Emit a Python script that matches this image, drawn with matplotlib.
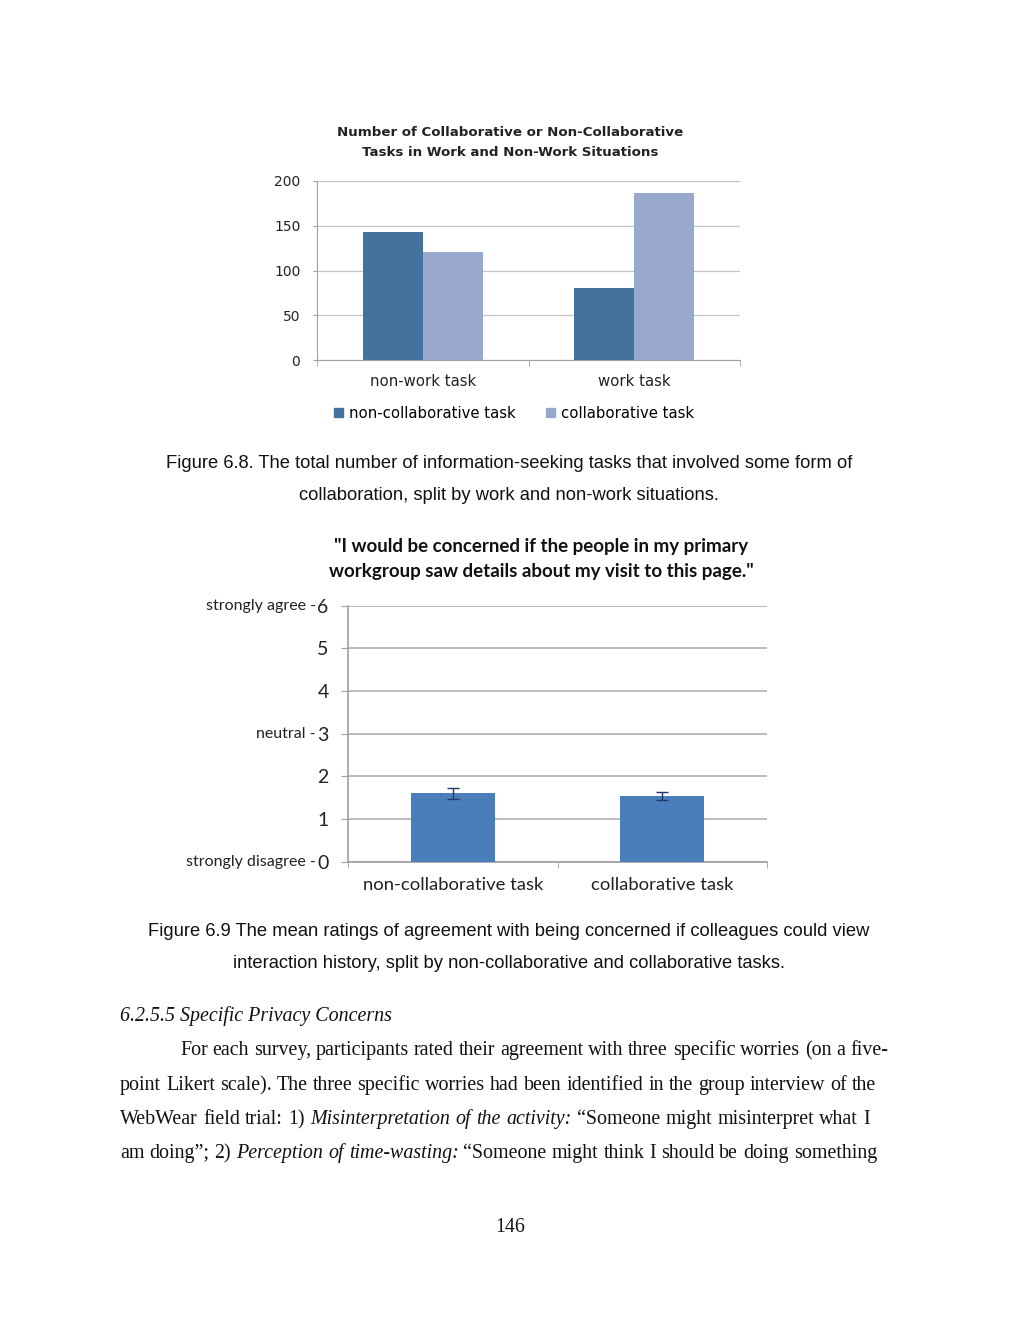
import numpy as np
import matplotlib
matplotlib.use("Agg")
import matplotlib.pyplot as plt
from matplotlib.patches import Patch

# Figure 6.8 data
groups_1 = ["non-work task", "work task"]
non_collab_counts = [143, 80]
collab_counts = [121, 187]
series_1 = ["non-collaborative task", "collaborative task"]
yticks_1 = [0, 50, 100, 150, 200]

# Figure 6.9 data
groups_2 = ["non-collaborative task", "collaborative task"]
mean_rating = [1.60, 1.54]
rating_err = [0.13, 0.105]
yticks_2 = [0, 1, 2, 3, 4, 5, 6]
ylabels_2 = {6: "strongly agree -", 3: "neutral -", 0: "strongly disagree -"}

W, H = 1019, 1320
fig = plt.figure(figsize=(W / 100, H / 100), dpi=100)
fig.patch.set_facecolor("white")


def fy(py):
    return 1 - py / H


def fx(px):
    return px / W


# ---------------- chart 1 ----------------
sans1 = "DejaVu Sans"
ax1 = fig.add_axes([fx(317), fy(360), fx(740) - fx(317), (360 - 181) / H])
x = np.arange(len(groups_1))
bw = 0.284
ax1.bar(x - bw / 2, non_collab_counts, bw, color="#44729f", zorder=3)
ax1.bar(x + bw / 2, collab_counts, bw, color="#98a9cd", zorder=3)
ax1.set_xlim(-0.5, 1.5)
ax1.set_ylim(0, 200)
ax1.set_yticks(yticks_1)
ax1.set_yticklabels([str(v) for v in yticks_1], family=sans1, fontsize=10, color="#222222")
ax1.set_xticks(x)
ax1.set_xticklabels(groups_1, family=sans1, fontsize=10.7, color="#222222")
ax1.set_xticks([-0.5, 0.5, 1.5], minor=True)
ax1.tick_params(axis="x", which="major", length=0, pad=10)
ax1.tick_params(axis="x", which="minor", length=4, color="#a0a0a0", direction="out")
ax1.tick_params(axis="y", length=3, color="#a0a0a0", pad=9)
ax1.grid(axis="y", color="#c4c4c4", linewidth=0.9, zorder=0)
for s in ["top", "right"]:
    ax1.spines[s].set_visible(False)
for s in ["left", "bottom"]:
    ax1.spines[s].set_color("#a0a0a0")

ax1.legend([Patch(color="#44729f"), Patch(color="#98a9cd")], series_1,
           loc="center", bbox_to_anchor=(fx(514), fy(413)), bbox_transform=fig.transFigure,
           ncol=2, frameon=False, handlelength=0.6, handleheight=0.6, handletextpad=0.4,
           columnspacing=2.0, prop={"family": sans1, "size": 10.7})

fig.text(fx(510), fy(133), "Number of Collaborative or Non-Collaborative", ha="center", va="center",
         family=sans1, fontsize=9.6, fontweight="bold", color="#222222")
fig.text(fx(510), fy(153), "Tasks in Work and Non-Work Situations", ha="center", va="center",
         family=sans1, fontsize=9.6, fontweight="bold", color="#222222")

# ---------------- chart 2 ----------------
sans2 = "Lato"
ax2 = fig.add_axes([fx(348), fy(861.7), fx(767) - fx(348), (861.7 - 605.7) / H])
x2 = np.arange(len(groups_2))
ax2.bar(x2, mean_rating, 0.4, color="#4a7ebb", zorder=3)
ax2.errorbar(x2, mean_rating, yerr=rating_err, fmt="none", ecolor="#1f3a68",
             elinewidth=1, capsize=4, capthick=1, zorder=4)
ax2.set_xlim(-0.5, 1.5)
ax2.set_ylim(0, 6)
ax2.set_yticks(yticks_2)
ax2.set_yticklabels([str(v) for v in yticks_2], family=sans2, fontsize=14, color="#222222")
ax2.set_xticks(x2)
ax2.set_xticklabels(groups_2, family=sans2, fontsize=13.3, color="#222222")
ax2.set_xticks([-0.5, 0.5, 1.5], minor=True)
ax2.tick_params(axis="x", which="major", length=0, pad=11)
ax2.tick_params(axis="x", which="minor", length=4, color="#a0a0a0", direction="out")
ax2.tick_params(axis="y", length=5, color="#a0a0a0", pad=9)
ax2.grid(axis="y", color="#a8a8a8", linewidth=1.1, zorder=0)
for s in ["top", "right"]:
    ax2.spines[s].set_visible(False)
for s in ["left", "bottom"]:
    ax2.spines[s].set_color("#a0a0a0")
    ax2.spines[s].set_linewidth(1.2)
for v, lab in ylabels_2.items():
    ax2.annotate(lab, xy=(0, v), xycoords=("axes fraction", "data"),
                 xytext=(-23, 0), textcoords="offset points", ha="right", va="center",
                 family=sans2, fontsize=11.5, color="#222222")

fig.text(fx(541), fy(547), "\"I would be concerned if the people in my primary", ha="center", va="center",
         family=sans2, fontsize=13.5, fontweight="bold", color="#111111")
fig.text(fx(541), fy(571), "workgroup saw details about my visit to this page.\"", ha="center", va="center",
         family=sans2, fontsize=13.5, fontweight="bold", color="#111111")

# ---------------- captions ----------------
cap = "Liberation Sans"
captions = [
    (463, "Figure 6.8. The total number of information-seeking tasks that involved some form of"),
    (495, "collaboration, split by work and non-work situations."),
    (931, "Figure 6.9 The mean ratings of agreement with being concerned if colleagues could view"),
    (963, "interaction history, split by non-collaborative and collaborative tasks."),
]
for py, s in captions:
    fig.text(fx(509), fy(py), s, ha="center", va="center", family=cap, fontsize=13.2, color="#111111")

# ---------------- body text ----------------
serif = "Liberation Serif"
bsize = 14.4
fig.text(fx(120), fy(1021), "6.2.5.5 Specific Privacy Concerns", ha="left", va="baseline",
         family=serif, style="italic", fontsize=bsize, color="#111111")

body = [
    (1055, 180, 888, "For each survey, participants rated their agreement with three specific worries (on a five-", set()),
    (1090, 120, 876, "point Likert scale). The three specific worries had been identified in the group interview of the", set()),
    (1124, 120, 870, "WebWear field trial: 1) Misinterpretation of the activity: \u201cSomeone might misinterpret what I", {4, 5, 6, 7}),
    (1158, 120, 877, "am doing\u201d; 2) Perception of time-wasting: \u201cSomeone might think I should be doing something", {3, 4, 5}),
]

renderer = fig.canvas.get_renderer()
for py, x0, x1, line, ital in body:
    words = line.split(" ")
    texts = []
    for i, w in enumerate(words):
        t = fig.text(0, fy(py), w, ha="left", va="baseline", family=serif, fontsize=bsize,
                     style="italic" if i in ital else "normal", color="#111111")
        texts.append(t)
    widths = [t.get_window_extent(renderer).width for t in texts]
    gap = (x1 - x0 - sum(widths)) / (len(texts) - 1)
    px = x0
    for t, wd in zip(texts, widths):
        t.set_x(fx(px))
        px += wd + gap

fig.text(fx(510), fy(1232), "146", ha="center", va="baseline", family=serif, fontsize=bsize, color="#111111")

fig.savefig("out.png", dpi=100, facecolor="white")
